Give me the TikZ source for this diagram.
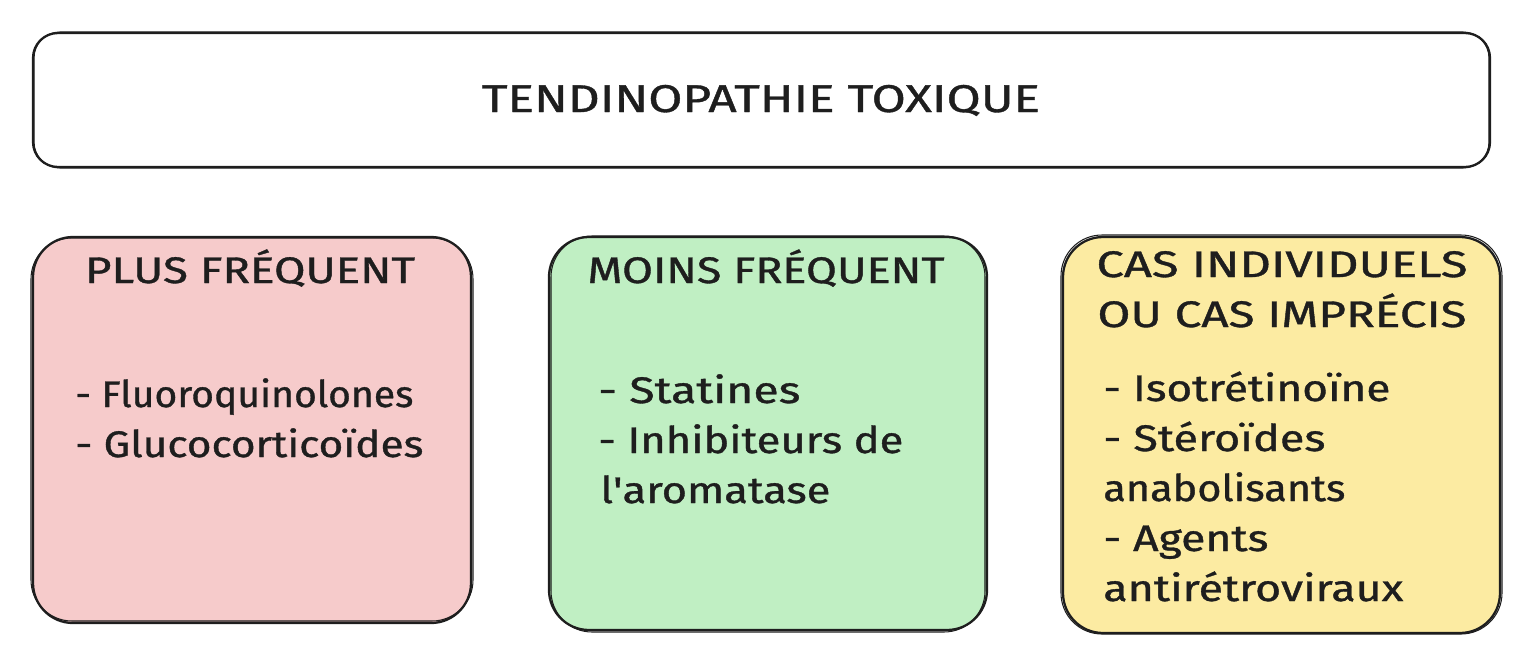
\documentclass[tikz,border=0pt]{standalone}
\usepackage{fontspec}
\usepackage{graphicx}
\setmainfont{Fira Sans}
\newfontfamily\inkfont{Fira Sans}[FakeBold=0.9]
\definecolor{redfill}{HTML}{F6CBCB}
\definecolor{greenfill}{HTML}{C0EFC3}
\definecolor{yellowfill}{HTML}{FCEBA2}
\definecolor{ink}{HTML}{1E1E1E}
\newdimen\pxunit \pxunit=0.02cm
\newcommand\fw[2]{\resizebox{#1\pxunit}{\height}{#2}}
\tikzset{
  sketch/.style={draw=ink, line width=1.3pt},
  sketchb/.style={draw=ink, line width=0.6pt},
  bigbox/.style={sketch, rounded corners=0.5cm},
  bigboxb/.style={sketchb, rounded corners=0.52cm},
  catbox/.style={sketch, rounded corners=0.8cm},
  catboxb/.style={sketchb, rounded corners=0.82cm},
  ttl/.style={inner sep=0pt, anchor=base, text=ink, font=\inkfont\fontsize{22}{26}\selectfont},
  hdr/.style={inner sep=0pt, anchor=base, text=ink, font=\inkfont\fontsize{21}{25}\selectfont},
  itm/.style={inner sep=0pt, anchor=base west, text=ink, font=\inkfont\fontsize{21}{25}\selectfont},
}
\begin{document}
\begin{tikzpicture}[x=0.02cm, y=-0.02cm]
\useasboundingbox (0,0) rectangle (1536,670);
% boxes
\draw[bigbox] (33,33) rectangle (1490,167);
\draw[bigboxb] (34,32) rectangle (1489,168);
\draw[catbox, fill=redfill] (33,237) rectangle (471,623);
\draw[catboxb] (31,238) rectangle (473,621);
\draw[catbox, fill=greenfill] (549,237) rectangle (987,630);
\draw[catboxb] (551,236) rectangle (985,632);
\draw[catbox, fill=yellowfill] (1063,237) rectangle (1500,633);
\draw[catboxb] (1061,235) rectangle (1502,634);
% title
\node[ttl] (title) at (761,112) {\fw{558}{TENDINOPATHIE TOXIQUE}};
% red
\node[hdr] (rh) at (250,283) {\fw{330}{PLUS FRÉQUENT}};
\node[itm] (r1) at (75,407) {\fw{338}{- Fluoroquinolones}};
\node[itm] (r2) at (75,457) {\fw{348}{- Glucocorticoïdes}};
% green
\node[hdr] (gh) at (766,283) {\fw{357}{MOINS FRÉQUENT}};
\node[itm] (g1) at (598,403) {\fw{202}{- Statines}};
\node[itm] (g2) at (598,453) {\fw{305}{- Inhibiteurs de}};
\node[itm] (g3) at (600,503) {\fw{230}{l\textquotesingle aromatase}};
% yellow
\node[hdr] (yh1) at (1282,277) {\fw{371}{CAS INDIVIDUELS}};
\node[hdr] (yh2) at (1282,327) {\fw{369}{OU CAS IMPRÉCIS}};
\node[itm] (y1) at (1103,401) {\fw{287}{- Isotrétinoïne}};
\node[itm] (y2) at (1103,451) {\fw{222}{- Stéroïdes}};
\node[itm] (y3) at (1103,501) {\fw{242}{anabolisants}};
\node[itm] (y4) at (1103,551) {\fw{165}{- Agents}};
\node[itm] (y5) at (1103,601) {\fw{300}{antirétroviraux}};
\end{tikzpicture}
\end{document}
